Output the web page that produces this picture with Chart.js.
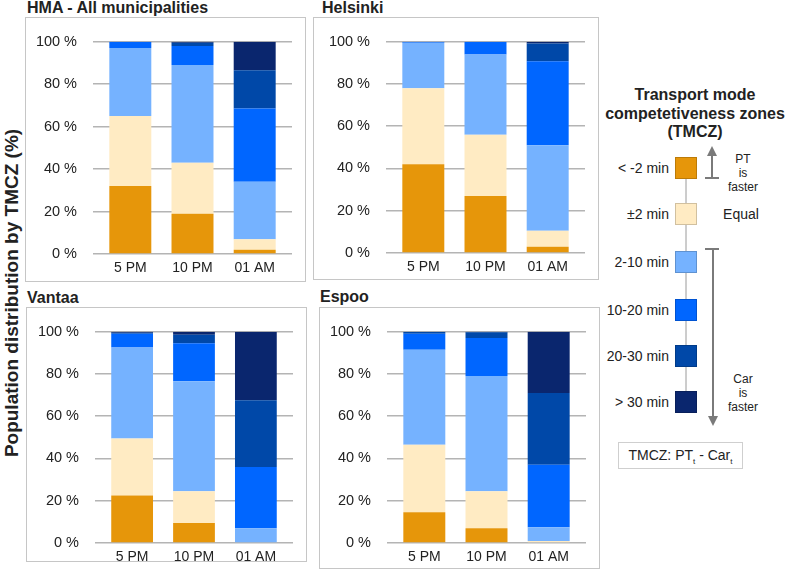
<!DOCTYPE html>
<html lang="en">
<head>
<meta charset="UTF-8">
<title>Population distribution by TMCZ</title>
<script src="https://cdn.jsdelivr.net/npm/chart.js"></script>
<style>
    body { margin: 0; background: #fff; font-family: "Liberation Sans", Arial, sans-serif; color: #222; }
    #page { position: relative; width: 786px; height: 573px; overflow: hidden; }
    .box { position: absolute; border: 1.5px solid #c6c6c6; box-sizing: border-box; }
    .panel-title { position: absolute; font-weight: bold; font-size: 16px; line-height: 16px; color: #222; white-space: nowrap; }
    canvas { position: absolute; }
    #ytitle { position: absolute; left: 12px; top: 293px; transform: translate(-50%, -50%) rotate(-90deg);
              font-weight: bold; font-size: 19px; white-space: nowrap; color: #222; }
    #legend-title { position: absolute; left: 595px; top: 86px; width: 200px; text-align: center;
                    font-weight: bold; font-size: 16px; line-height: 18.5px; white-space: nowrap; }
    .lg-label { position: absolute; width: 80px; text-align: right; font-size: 14px; line-height: 16px; }
    .lg-swatch { position: absolute; left: 675px; width: 22px; height: 22px; box-sizing: border-box;
                 border: 1px solid rgba(0,0,0,0.18); }
    .lg-note { position: absolute; width: 60px; text-align: center; font-size: 12px; line-height: 14px; color: #222; }
    #formula { position: absolute; left: 618px; top: 442px; width: 125px; height: 27px; box-sizing: border-box;
               border: 1px solid #cfcfcf; font-size: 14px; line-height: 25px; text-align: center; }
    #formula sub { font-size: 8px; }
    svg { position: absolute; left: 0; top: 0; }
</style>
</head>
<body>
<div id="page">
    <div id="ytitle">Population distribution by TMCZ (%)</div>

    <div id="legend-title">Transport mode<br>competetiveness zones<br>(TMCZ)</div>
    <svg width="786" height="573">
        <line x1="686" y1="168" x2="686" y2="402" stroke="#9a9a9a" stroke-width="1"/>
        <!-- PT is faster -->
        <line x1="712" y1="178" x2="712" y2="154" stroke="#7a7a7a" stroke-width="2"/>
        <polygon points="707,156 717,156 712,146" fill="#7a7a7a"/>
        <line x1="705" y1="178" x2="719" y2="178" stroke="#7a7a7a" stroke-width="2"/>
        <!-- Car is faster -->
        <line x1="705" y1="249" x2="719" y2="249" stroke="#7a7a7a" stroke-width="2"/>
        <line x1="713" y1="249" x2="713" y2="418" stroke="#7a7a7a" stroke-width="2"/>
        <polygon points="708,416 718,416 713,426" fill="#7a7a7a"/>
    </svg>
    <div id="legend"></div>
    <div class="lg-note" style="left:713px; top:152px;">PT<br>is<br>faster</div>
    <div class="lg-label" style="left:701px; top:206px; width:80px; text-align:center;">Equal</div>
    <div class="lg-note" style="left:713px; top:372px;">Car<br>is<br>faster</div>
    <div id="formula">TMCZ: PT<sub>t</sub> - Car<sub>t</sub></div>
</div>

<script>
    // Categories and zones
    const categories = ['5 PM', '10 PM', '01 AM'];
    const zones = ['< -2 min', '±2 min', '2-10 min', '10-20 min', '20-30 min', '> 30 min'];
    const zoneColors = ['#e6960a', '#ffebc3', '#75b2ff', '#0066ff', '#0048a8', '#0a266e'];

    // Shares (%) by zone (rows) for 5 PM, 10 PM, 01 AM (columns)
    const hma = [
        [32, 19, 2],
        [33, 24, 5],
        [32, 46, 27],
        [3, 9, 34.5],
        [0, 1.5, 18],
        [0, 0.5, 13.5]
    ];
    const helsinki = [
        [42, 27, 3],
        [36, 29, 7.5],
        [21.5, 38, 40.5],
        [0.5, 6, 39.7],
        [0, 0, 8.5],
        [0, 0, 0.8]
    ];
    const vantaa = [
        [22.5, 9.5, 0],
        [27, 15, 0],
        [43, 52, 7],
        [6.5, 18, 29],
        [0.5, 4, 31.5],
        [0.5, 1.5, 32.5]
    ];
    const espoo = [
        [14.5, 7, 0],
        [32, 17.5, 1],
        [45, 54.5, 6.5],
        [7.5, 18, 29.5],
        [1, 2.7, 34],
        [0, 0.3, 29]
    ];

    // Panel layout: box = [left, top, width, height], area = plot [left, top, right, bottom]
    const panels = [
        { title: 'HMA - All municipalities', values: hma, titlePos: [27, 0], box: [25, 17, 281, 265], area: [93, 30, 292, 254] },
        { title: 'Helsinki', values: helsinki, titlePos: [322, 0], box: [313, 17, 286, 263], area: [386, 29, 585, 253] },
        { title: 'Vantaa', values: vantaa, titlePos: [27, 290], box: [26, 307, 281, 255], area: [95, 319, 293, 543] },
        { title: 'Espoo', values: espoo, titlePos: [320, 289], box: [319, 307, 281, 262], area: [387, 320, 586, 543] }
    ];

    const page = document.getElementById('page');

    panels.forEach(p => {
        const [bl, bt, bw, bh] = p.box;
        const [al, at, ar, ab] = p.area;

        const box = document.createElement('div');
        box.className = 'box';
        Object.assign(box.style, { left: bl + 'px', top: bt + 'px', width: bw + 'px', height: bh + 'px' });
        page.appendChild(box);

        const title = document.createElement('div');
        title.className = 'panel-title';
        title.textContent = p.title;
        title.style.left = p.titlePos[0] + 'px';
        title.style.top = p.titlePos[1] + 'px';
        page.appendChild(title);

        const canvas = document.createElement('canvas');
        const ch = ab + 30 - bt;
        canvas.width = bw;
        canvas.height = ch;
        Object.assign(canvas.style, { left: bl + 'px', top: bt + 'px', width: bw + 'px', height: ch + 'px' });
        page.appendChild(canvas);

        new Chart(canvas, {
            type: 'bar',
            data: {
                datasets: zones.map((z, k) => ({
                    label: z,
                    data: p.values[k].map((v, i) => ({ x: i, y: v })),
                    backgroundColor: zoneColors[k],
                    borderWidth: 0,
                    categoryPercentage: 0.75,
                    barPercentage: 0.9
                }))
            },
            options: {
                responsive: false,
                animation: false,
                layout: { padding: { top: at - bt, right: bl + bw - ar, left: 0, bottom: 0 } },
                plugins: { legend: { display: false }, tooltip: { enabled: false } },
                scales: {
                    x: {
                        type: 'linear',
                        stacked: true,
                        offset: false,
                        min: -0.6,
                        max: 2.6,
                        grid: { display: false, drawTicks: false },
                        border: { display: false },
                        afterBuildTicks: s => { s.ticks = categories.map((c, i) => ({ value: i })); },
                        afterFit: s => { s.height = 30; },
                        ticks: {
                            callback: v => categories[v],
                            padding: 6,
                            maxRotation: 0,
                            autoSkip: false,
                            color: '#222',
                            font: { family: '"Liberation Sans", Arial, sans-serif', size: 14 }
                        }
                    },
                    y: {
                        stacked: true,
                        min: 0,
                        max: 100,
                        grid: { color: '#b4b4b4', lineWidth: 1.5, drawTicks: false },
                        border: { display: false },
                        afterFit: s => { s.width = al - bl; },
                        ticks: {
                            stepSize: 20,
                            padding: 16,
                            callback: v => v + ' %',
                            color: '#222',
                            font: { family: '"Liberation Sans", Arial, sans-serif', size: 14.5 }
                        }
                    }
                }
            }
        });
    });

    // Legend swatches and labels
    const legend = document.getElementById('legend');
    const swatchY = [168, 214, 262, 310, 356, 402];
    zones.forEach((z, k) => {
        const sw = document.createElement('div');
        sw.className = 'lg-swatch';
        sw.style.top = (swatchY[k] - 11) + 'px';
        sw.style.background = zoneColors[k];
        legend.appendChild(sw);

        const lb = document.createElement('div');
        lb.className = 'lg-label';
        lb.textContent = z;
        lb.style.left = (669 - 80) + 'px';
        lb.style.top = (swatchY[k] - 8) + 'px';
        legend.appendChild(lb);
    });
</script>
</body>
</html>
